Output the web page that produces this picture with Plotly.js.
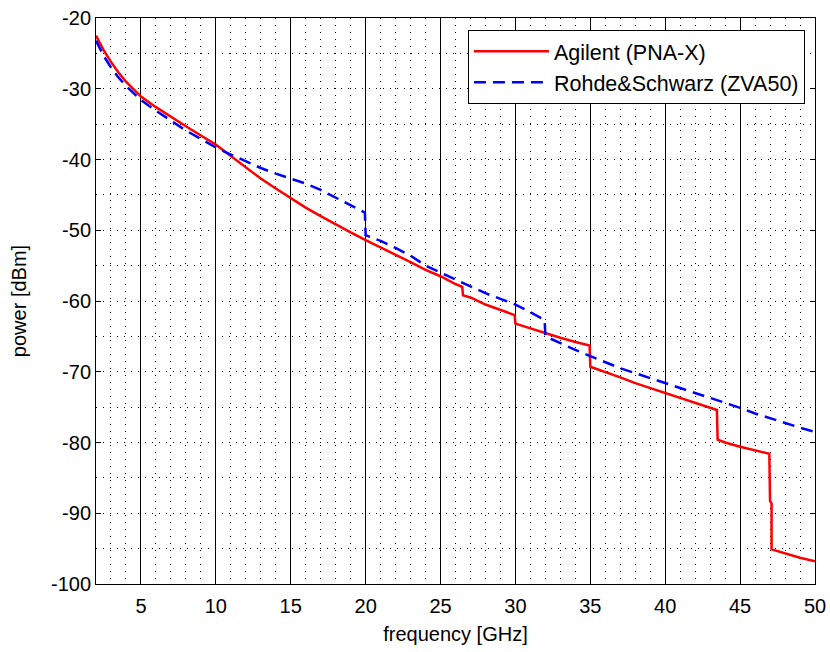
<!DOCTYPE html>
<html>
<head>
<meta charset="utf-8">
<script src="https://cdn.plot.ly/plotly-3.0.1.min.js"></script>
<style>html,body{margin:0;padding:0;background:#fff;}#chart{width:830px;height:652px;}</style>
</head>
<body>
<div id="chart"></div>
<script>
// Agilent (PNA-X)
const agilentFreq = [2, 2.5, 3, 3.5, 4, 5, 6, 7, 8, 9, 10, 11, 12, 13, 14, 15, 16, 17, 18, 19, 20, 21, 22, 23, 24, 25, 26, 26.45, 26.5, 27, 28, 29, 29.95, 30.0, 31, 32, 33, 34, 34.95, 35.0, 36, 37, 38, 39, 40, 41, 42, 43, 43.45, 43.5, 44, 45, 46, 46.95, 47.0, 47.1, 47.1, 48, 49, 50];
const agilentPower = [-22.5, -24.5, -26.2, -27.7, -29.0, -31.1, -32.6, -34.0, -35.3, -36.6, -37.9, -39.5, -41.1, -42.7, -44.1, -45.5, -46.8, -48.0, -49.2, -50.3, -51.4, -52.4, -53.4, -54.5, -55.6, -56.5, -57.6, -58.0, -59.2, -59.5, -60.5, -61.3, -62.0, -63.2, -63.9, -64.6, -65.2, -65.8, -66.3, -69.3, -70.0, -70.8, -71.6, -72.3, -73.0, -73.7, -74.4, -75.1, -75.4, -79.6, -80.0, -80.6, -81.1, -81.6, -88.3, -88.6, -95.1, -95.7, -96.3, -96.8];

// Rohde&Schwarz (ZVA50)
const rsFreq = [2, 2.5, 3, 3.5, 4, 5, 6, 7, 8, 9, 10, 11, 12, 13, 14, 15, 16, 17, 18, 19, 19.95, 20.0, 21, 22, 23, 24, 25, 26, 27, 28, 29, 30, 31, 31.95, 32.0, 33, 34, 35, 36, 37, 38, 39, 40, 41, 42, 43, 44, 45, 46, 47, 48, 49, 50];
const rsPower = [-23.2, -25.3, -27.0, -28.4, -29.6, -31.6, -33.1, -34.5, -35.9, -37.1, -38.3, -39.3, -40.3, -41.2, -42.0, -42.7, -43.4, -44.3, -45.4, -46.5, -47.5, -50.7, -51.5, -52.5, -53.6, -55.0, -56.0, -57.0, -58.0, -58.9, -59.7, -60.5, -61.6, -62.7, -65.0, -66.0, -66.9, -67.8, -68.7, -69.5, -70.2, -70.9, -71.6, -72.2, -72.9, -73.6, -74.4, -75.1, -75.9, -76.6, -77.3, -77.9, -78.5];

const seriesNames = ['Agilent (PNA-X)', 'Rohde&Schwarz (ZVA50)'];
const xTickVals = [5, 10, 15, 20, 25, 30, 35, 40, 45, 50];
const yTickVals = [-100, -90, -80, -70, -60, -50, -40, -30, -20];

const FONT = 'Liberation Sans, Arial, sans-serif';
const dotGrid = '1px,6px';

const traces = [
  {x: agilentFreq, y: agilentPower, name: seriesNames[0], mode: 'lines', type: 'scatter',
   line: {color: '#ff0000', width: 2.5}},
  {x: rsFreq, y: rsPower, name: seriesNames[1], mode: 'lines', type: 'scatter',
   line: {color: '#0000ff', width: 2.5, dash: '12px,7px'}}
];

const layout = {
  width: 830, height: 652,
  margin: {l: 96, r: 15, t: 18, b: 68},
  paper_bgcolor: '#fff', plot_bgcolor: '#fff',
  showlegend: true,
  font: {family: FONT, size: 20, color: '#000'},
  xaxis: {
    range: [2, 50], tickvals: xTickVals, ticktext: xTickVals.map(String),
    ticks: 'inside', ticklen: 5, tickcolor: '#000', mirror: 'ticks',
    showline: true, linecolor: '#000', linewidth: 1,
    showgrid: true, gridcolor: '#000', gridwidth: 1,
    zeroline: false, ticklabelstandoff: 4,
    tickfont: {size: 20, family: FONT},
    title: {text: 'frequency [GHz]', font: {size: 20, family: FONT}, standoff: 10},
    minor: {dtick: 1, tick0: 0, showgrid: true, gridcolor: '#000', gridwidth: 1, griddash: dotGrid, ticks: ''}
  },
  yaxis: {
    range: [-100, -20], tickvals: yTickVals, ticktext: yTickVals.map(String),
    ticks: 'inside', ticklen: 5, tickcolor: '#000', mirror: 'ticks',
    showline: true, linecolor: '#000', linewidth: 1,
    showgrid: true, gridcolor: '#000', gridwidth: 1, griddash: dotGrid,
    zeroline: false,
    tickfont: {size: 20, family: FONT},
    title: {text: 'power [dBm]', font: {size: 20, family: FONT}, standoff: 18},
    minor: {dtick: 5, tick0: 0, showgrid: true, gridcolor: '#000', gridwidth: 1, griddash: dotGrid, ticks: ''}
  },
  legend: {
    x: 0.986, xanchor: 'right', y: 0.979, yanchor: 'top',
    bgcolor: '#fff', bordercolor: '#000', borderwidth: 1,
    font: {size: 21.5, family: FONT}, tracegroupgap: 0, itemwidth: 75
  }
};

Plotly.newPlot('chart', traces, layout, {displayModeBar: false, staticPlot: true});
</script>
</body>
</html>
